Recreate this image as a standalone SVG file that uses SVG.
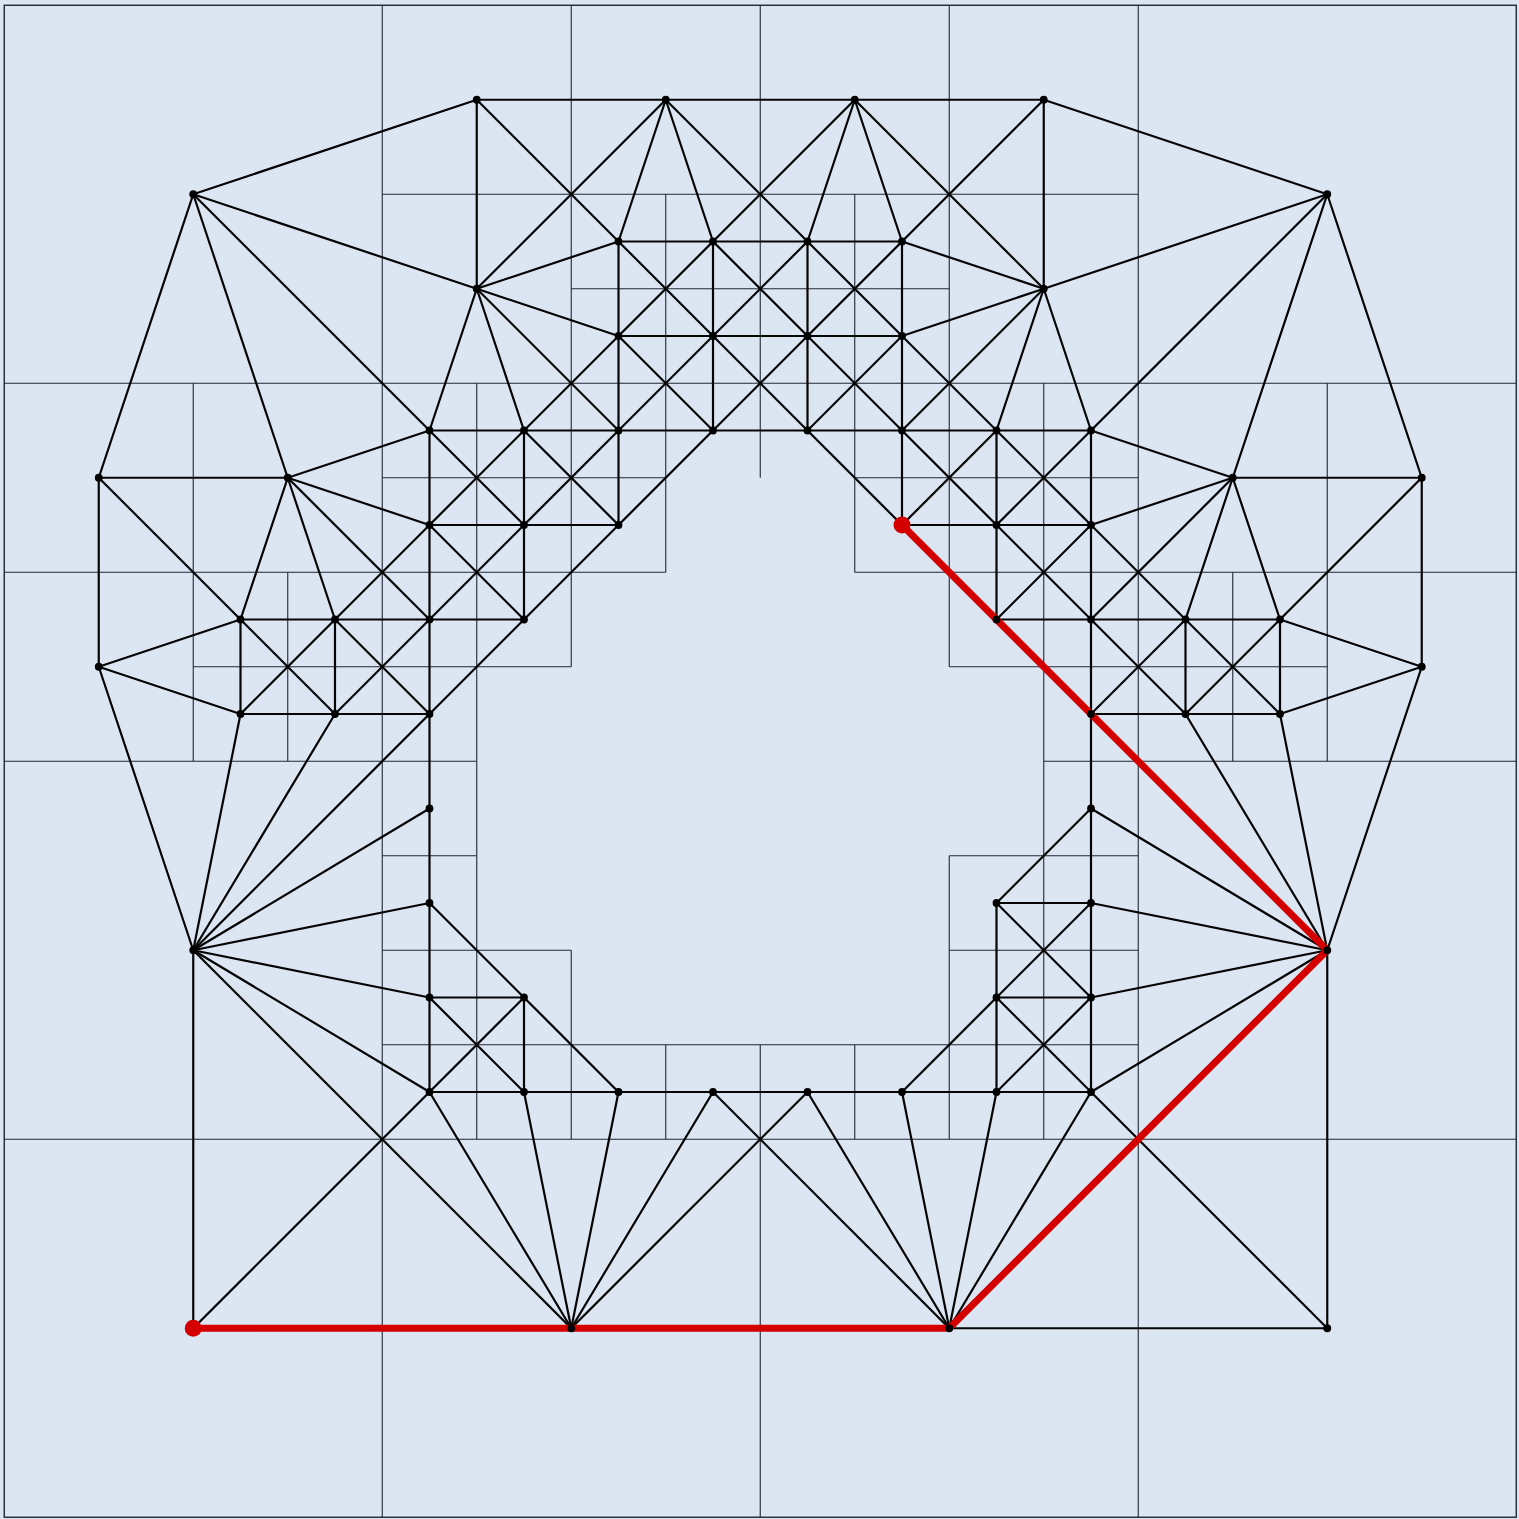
<svg xmlns="http://www.w3.org/2000/svg" width="1519" height="1519" viewBox="0 0 1519 1519">
<style>
.grid line{stroke:#1f2733;stroke-width:1.1}
.grid rect{fill:none;stroke:#1f2733;stroke-width:1.4}
.edges line{stroke:#050505;stroke-width:2.2;stroke-linecap:round}
.path line{stroke:#d40000;stroke-width:7;stroke-linecap:round}
.n{fill:#000;r:3.9px}
.t{fill:#d40000;r:8.5px}
</style>
<rect width="1519" height="1519" fill="#dce6f2"/>
<g id="diagram" transform="translate(-0.25 0.25)">
<g id="grid" class="grid">
<rect x="4.5" y="5" width="1512" height="1512"/>
<line x1="382.5" y1="194" x2="1138.5" y2="194"/>
<line x1="571.5" y1="288.5" x2="949.5" y2="288.5"/>
<line x1="4.5" y1="383" x2="1516.5" y2="383"/>
<line x1="382.5" y1="477.5" x2="666" y2="477.5"/>
<line x1="855" y1="477.5" x2="1138.5" y2="477.5"/>
<line x1="4.5" y1="572" x2="666" y2="572"/>
<line x1="855" y1="572" x2="1516.5" y2="572"/>
<line x1="193.5" y1="666.5" x2="571.5" y2="666.5"/>
<line x1="949.5" y1="666.5" x2="1327.5" y2="666.5"/>
<line x1="4.5" y1="761" x2="477" y2="761"/>
<line x1="1044" y1="761" x2="1516.5" y2="761"/>
<line x1="382.5" y1="855.5" x2="477" y2="855.5"/>
<line x1="949.5" y1="855.5" x2="1138.5" y2="855.5"/>
<line x1="382.5" y1="950" x2="571.5" y2="950"/>
<line x1="949.5" y1="950" x2="1138.5" y2="950"/>
<line x1="382.5" y1="1044.5" x2="1138.5" y2="1044.5"/>
<line x1="4.5" y1="1139" x2="1516.5" y2="1139"/>
<line x1="193.5" y1="383" x2="193.5" y2="761"/>
<line x1="288" y1="572" x2="288" y2="761"/>
<line x1="382.5" y1="5" x2="382.5" y2="1517"/>
<line x1="477" y1="383" x2="477" y2="1139"/>
<line x1="571.5" y1="5" x2="571.5" y2="666.5"/>
<line x1="571.5" y1="950" x2="571.5" y2="1139"/>
<line x1="666" y1="194" x2="666" y2="572"/>
<line x1="666" y1="1044.5" x2="666" y2="1139"/>
<line x1="760.5" y1="5" x2="760.5" y2="477.5"/>
<line x1="760.5" y1="1044.5" x2="760.5" y2="1517"/>
<line x1="855" y1="194" x2="855" y2="572"/>
<line x1="855" y1="1044.5" x2="855" y2="1139"/>
<line x1="949.5" y1="5" x2="949.5" y2="666.5"/>
<line x1="949.5" y1="855.5" x2="949.5" y2="1139"/>
<line x1="1044" y1="383" x2="1044" y2="1139"/>
<line x1="1138.5" y1="5" x2="1138.5" y2="1517"/>
<line x1="1233" y1="572" x2="1233" y2="761"/>
<line x1="1327.5" y1="383" x2="1327.5" y2="761"/>
</g>
<g id="connectors" class="edges">
<line x1="477" y1="99.5" x2="666" y2="99.5"/>
<line x1="666" y1="99.5" x2="855" y2="99.5"/>
<line x1="855" y1="99.5" x2="1044" y2="99.5"/>
<line x1="193.5" y1="194" x2="477" y2="99.5"/>
<line x1="1327.5" y1="194" x2="1044" y2="99.5"/>
<line x1="193.5" y1="194" x2="477" y2="288.5"/>
<line x1="1327.5" y1="194" x2="1044" y2="288.5"/>
<line x1="477" y1="99.5" x2="477" y2="288.5"/>
<line x1="1044" y1="99.5" x2="1044" y2="288.5"/>
<line x1="477" y1="99.5" x2="618.75" y2="241.25"/>
<line x1="666" y1="99.5" x2="477" y2="288.5"/>
<line x1="666" y1="99.5" x2="618.75" y2="241.25"/>
<line x1="666" y1="99.5" x2="713.25" y2="241.25"/>
<line x1="666" y1="99.5" x2="807.75" y2="241.25"/>
<line x1="855" y1="99.5" x2="713.25" y2="241.25"/>
<line x1="855" y1="99.5" x2="807.75" y2="241.25"/>
<line x1="855" y1="99.5" x2="902.25" y2="241.25"/>
<line x1="855" y1="99.5" x2="1044" y2="288.5"/>
<line x1="1044" y1="99.5" x2="902.25" y2="241.25"/>
<line x1="477" y1="288.5" x2="618.75" y2="241.25"/>
<line x1="477" y1="288.5" x2="618.75" y2="335.75"/>
<line x1="1044" y1="288.5" x2="902.25" y2="241.25"/>
<line x1="1044" y1="288.5" x2="902.25" y2="335.75"/>
<line x1="193.5" y1="194" x2="429.75" y2="430.25"/>
<line x1="1327.5" y1="194" x2="1091.25" y2="430.25"/>
<line x1="193.5" y1="194" x2="99" y2="477.5"/>
<line x1="193.5" y1="194" x2="288" y2="477.5"/>
<line x1="1327.5" y1="194" x2="1422" y2="477.5"/>
<line x1="1327.5" y1="194" x2="1233" y2="477.5"/>
<line x1="99" y1="477.5" x2="288" y2="477.5"/>
<line x1="1233" y1="477.5" x2="1422" y2="477.5"/>
<line x1="99" y1="477.5" x2="99" y2="666.5"/>
<line x1="1422" y1="477.5" x2="1422" y2="666.5"/>
<line x1="99" y1="477.5" x2="240.75" y2="619.25"/>
<line x1="1422" y1="477.5" x2="1280.25" y2="619.25"/>
<line x1="288" y1="477.5" x2="429.75" y2="430.25"/>
<line x1="288" y1="477.5" x2="429.75" y2="524.75"/>
<line x1="1233" y1="477.5" x2="1091.25" y2="430.25"/>
<line x1="1233" y1="477.5" x2="1091.25" y2="524.75"/>
<line x1="288" y1="477.5" x2="240.75" y2="619.25"/>
<line x1="288" y1="477.5" x2="335.25" y2="619.25"/>
<line x1="1233" y1="477.5" x2="1185.75" y2="619.25"/>
<line x1="1233" y1="477.5" x2="1280.25" y2="619.25"/>
<line x1="288" y1="477.5" x2="429.75" y2="619.25"/>
<line x1="1233" y1="477.5" x2="1091.25" y2="619.25"/>
<line x1="99" y1="666.5" x2="240.75" y2="619.25"/>
<line x1="99" y1="666.5" x2="240.75" y2="713.75"/>
<line x1="1422" y1="666.5" x2="1280.25" y2="619.25"/>
<line x1="1422" y1="666.5" x2="1280.25" y2="713.75"/>
<line x1="99" y1="666.5" x2="193.5" y2="950"/>
<line x1="1422" y1="666.5" x2="1327.5" y2="950"/>
<line x1="477" y1="288.5" x2="429.75" y2="430.25"/>
<line x1="477" y1="288.5" x2="524.25" y2="430.25"/>
<line x1="1044" y1="288.5" x2="996.75" y2="430.25"/>
<line x1="1044" y1="288.5" x2="1091.25" y2="430.25"/>
<line x1="477" y1="288.5" x2="618.75" y2="430.25"/>
<line x1="1044" y1="288.5" x2="902.25" y2="430.25"/>
<line x1="618.75" y1="241.25" x2="713.25" y2="241.25"/>
<line x1="713.25" y1="241.25" x2="807.75" y2="241.25"/>
<line x1="807.75" y1="241.25" x2="902.25" y2="241.25"/>
<line x1="618.75" y1="335.75" x2="713.25" y2="335.75"/>
<line x1="713.25" y1="335.75" x2="807.75" y2="335.75"/>
<line x1="807.75" y1="335.75" x2="902.25" y2="335.75"/>
<line x1="618.75" y1="241.25" x2="618.75" y2="335.75"/>
<line x1="618.75" y1="335.75" x2="618.75" y2="430.25"/>
<line x1="618.75" y1="430.25" x2="618.75" y2="524.75"/>
<line x1="713.25" y1="241.25" x2="713.25" y2="335.75"/>
<line x1="713.25" y1="335.75" x2="713.25" y2="430.25"/>
<line x1="807.75" y1="241.25" x2="807.75" y2="335.75"/>
<line x1="807.75" y1="335.75" x2="807.75" y2="430.25"/>
<line x1="902.25" y1="241.25" x2="902.25" y2="335.75"/>
<line x1="902.25" y1="335.75" x2="902.25" y2="430.25"/>
<line x1="902.25" y1="430.25" x2="902.25" y2="524.75"/>
<line x1="429.75" y1="430.25" x2="524.25" y2="430.25"/>
<line x1="524.25" y1="430.25" x2="618.75" y2="430.25"/>
<line x1="618.75" y1="430.25" x2="713.25" y2="430.25"/>
<line x1="713.25" y1="430.25" x2="807.75" y2="430.25"/>
<line x1="807.75" y1="430.25" x2="902.25" y2="430.25"/>
<line x1="902.25" y1="430.25" x2="996.75" y2="430.25"/>
<line x1="996.75" y1="430.25" x2="1091.25" y2="430.25"/>
<line x1="618.75" y1="241.25" x2="713.25" y2="335.75"/>
<line x1="713.25" y1="335.75" x2="807.75" y2="430.25"/>
<line x1="807.75" y1="430.25" x2="902.25" y2="524.75"/>
<line x1="713.25" y1="241.25" x2="807.75" y2="335.75"/>
<line x1="807.75" y1="335.75" x2="902.25" y2="430.25"/>
<line x1="902.25" y1="430.25" x2="996.75" y2="524.75"/>
<line x1="996.75" y1="524.75" x2="1091.25" y2="619.25"/>
<line x1="1091.25" y1="619.25" x2="1185.75" y2="713.75"/>
<line x1="807.75" y1="241.25" x2="902.25" y2="335.75"/>
<line x1="902.25" y1="335.75" x2="996.75" y2="430.25"/>
<line x1="996.75" y1="430.25" x2="1091.25" y2="524.75"/>
<line x1="1091.25" y1="524.75" x2="1185.75" y2="619.25"/>
<line x1="1185.75" y1="619.25" x2="1280.25" y2="713.75"/>
<line x1="618.75" y1="335.75" x2="713.25" y2="430.25"/>
<line x1="902.25" y1="241.25" x2="807.75" y2="335.75"/>
<line x1="807.75" y1="335.75" x2="713.25" y2="430.25"/>
<line x1="713.25" y1="430.25" x2="618.75" y2="524.75"/>
<line x1="618.75" y1="524.75" x2="524.25" y2="619.25"/>
<line x1="524.25" y1="619.25" x2="429.75" y2="713.75"/>
<line x1="429.75" y1="713.75" x2="193.5" y2="950"/>
<line x1="807.75" y1="241.25" x2="713.25" y2="335.75"/>
<line x1="713.25" y1="335.75" x2="618.75" y2="430.25"/>
<line x1="618.75" y1="430.25" x2="524.25" y2="524.75"/>
<line x1="524.25" y1="524.75" x2="429.75" y2="619.25"/>
<line x1="429.75" y1="619.25" x2="335.25" y2="713.75"/>
<line x1="713.25" y1="241.25" x2="618.75" y2="335.75"/>
<line x1="618.75" y1="335.75" x2="524.25" y2="430.25"/>
<line x1="524.25" y1="430.25" x2="429.75" y2="524.75"/>
<line x1="429.75" y1="524.75" x2="335.25" y2="619.25"/>
<line x1="335.25" y1="619.25" x2="240.75" y2="713.75"/>
<line x1="902.25" y1="335.75" x2="807.75" y2="430.25"/>
<line x1="902.25" y1="524.75" x2="996.75" y2="430.25"/>
<line x1="996.75" y1="524.75" x2="1091.25" y2="430.25"/>
<line x1="996.75" y1="619.25" x2="1091.25" y2="524.75"/>
<line x1="1091.25" y1="713.75" x2="1185.75" y2="619.25"/>
<line x1="1185.75" y1="713.75" x2="1280.25" y2="619.25"/>
<line x1="429.75" y1="430.25" x2="524.25" y2="524.75"/>
<line x1="429.75" y1="524.75" x2="524.25" y2="619.25"/>
<line x1="335.25" y1="619.25" x2="429.75" y2="713.75"/>
<line x1="240.75" y1="619.25" x2="335.25" y2="713.75"/>
<line x1="524.25" y1="430.25" x2="618.75" y2="524.75"/>
<line x1="429.75" y1="430.25" x2="429.75" y2="524.75"/>
<line x1="429.75" y1="524.75" x2="429.75" y2="619.25"/>
<line x1="429.75" y1="619.25" x2="429.75" y2="713.75"/>
<line x1="429.75" y1="713.75" x2="429.75" y2="808.25"/>
<line x1="429.75" y1="808.25" x2="429.75" y2="902.75"/>
<line x1="429.75" y1="902.75" x2="429.75" y2="997.25"/>
<line x1="429.75" y1="997.25" x2="429.75" y2="1091.75"/>
<line x1="524.25" y1="430.25" x2="524.25" y2="524.75"/>
<line x1="524.25" y1="524.75" x2="524.25" y2="619.25"/>
<line x1="240.75" y1="619.25" x2="240.75" y2="713.75"/>
<line x1="335.25" y1="619.25" x2="335.25" y2="713.75"/>
<line x1="996.75" y1="430.25" x2="996.75" y2="524.75"/>
<line x1="996.75" y1="524.75" x2="996.75" y2="619.25"/>
<line x1="1091.25" y1="430.25" x2="1091.25" y2="524.75"/>
<line x1="1091.25" y1="524.75" x2="1091.25" y2="619.25"/>
<line x1="1091.25" y1="619.25" x2="1091.25" y2="713.75"/>
<line x1="1091.25" y1="713.75" x2="1091.25" y2="808.25"/>
<line x1="1091.25" y1="808.25" x2="1091.25" y2="902.75"/>
<line x1="1091.25" y1="902.75" x2="1091.25" y2="997.25"/>
<line x1="1091.25" y1="997.25" x2="1091.25" y2="1091.75"/>
<line x1="1185.75" y1="619.25" x2="1185.75" y2="713.75"/>
<line x1="1280.25" y1="619.25" x2="1280.25" y2="713.75"/>
<line x1="429.75" y1="524.75" x2="524.25" y2="524.75"/>
<line x1="524.25" y1="524.75" x2="618.75" y2="524.75"/>
<line x1="902.25" y1="524.75" x2="996.75" y2="524.75"/>
<line x1="996.75" y1="524.75" x2="1091.25" y2="524.75"/>
<line x1="240.75" y1="619.25" x2="335.25" y2="619.25"/>
<line x1="335.25" y1="619.25" x2="429.75" y2="619.25"/>
<line x1="429.75" y1="619.25" x2="524.25" y2="619.25"/>
<line x1="996.75" y1="619.25" x2="1091.25" y2="619.25"/>
<line x1="1091.25" y1="619.25" x2="1185.75" y2="619.25"/>
<line x1="1185.75" y1="619.25" x2="1280.25" y2="619.25"/>
<line x1="240.75" y1="713.75" x2="335.25" y2="713.75"/>
<line x1="335.25" y1="713.75" x2="429.75" y2="713.75"/>
<line x1="1091.25" y1="713.75" x2="1185.75" y2="713.75"/>
<line x1="1185.75" y1="713.75" x2="1280.25" y2="713.75"/>
<line x1="240.75" y1="713.75" x2="193.5" y2="950"/>
<line x1="335.25" y1="713.75" x2="193.5" y2="950"/>
<line x1="1280.25" y1="713.75" x2="1327.5" y2="950"/>
<line x1="1185.75" y1="713.75" x2="1327.5" y2="950"/>
<line x1="193.5" y1="950" x2="429.75" y2="808.25"/>
<line x1="193.5" y1="950" x2="429.75" y2="902.75"/>
<line x1="193.5" y1="950" x2="429.75" y2="997.25"/>
<line x1="193.5" y1="950" x2="429.75" y2="1091.75"/>
<line x1="429.75" y1="902.75" x2="524.25" y2="997.25"/>
<line x1="524.25" y1="997.25" x2="618.75" y2="1091.75"/>
<line x1="429.75" y1="997.25" x2="524.25" y2="997.25"/>
<line x1="429.75" y1="997.25" x2="524.25" y2="1091.75"/>
<line x1="524.25" y1="997.25" x2="429.75" y2="1091.75"/>
<line x1="524.25" y1="997.25" x2="524.25" y2="1091.75"/>
<line x1="429.75" y1="1091.75" x2="524.25" y2="1091.75"/>
<line x1="524.25" y1="1091.75" x2="618.75" y2="1091.75"/>
<line x1="618.75" y1="1091.75" x2="713.25" y2="1091.75"/>
<line x1="713.25" y1="1091.75" x2="807.75" y2="1091.75"/>
<line x1="807.75" y1="1091.75" x2="902.25" y2="1091.75"/>
<line x1="902.25" y1="1091.75" x2="996.75" y2="1091.75"/>
<line x1="996.75" y1="1091.75" x2="1091.25" y2="1091.75"/>
<line x1="429.75" y1="1091.75" x2="193.5" y2="1328"/>
<line x1="429.75" y1="1091.75" x2="571.5" y2="1328"/>
<line x1="524.25" y1="1091.75" x2="571.5" y2="1328"/>
<line x1="618.75" y1="1091.75" x2="571.5" y2="1328"/>
<line x1="713.25" y1="1091.75" x2="571.5" y2="1328"/>
<line x1="807.75" y1="1091.75" x2="571.5" y2="1328"/>
<line x1="713.25" y1="1091.75" x2="949.5" y2="1328"/>
<line x1="807.75" y1="1091.75" x2="949.5" y2="1328"/>
<line x1="902.25" y1="1091.75" x2="949.5" y2="1328"/>
<line x1="996.75" y1="1091.75" x2="949.5" y2="1328"/>
<line x1="1091.25" y1="1091.75" x2="949.5" y2="1328"/>
<line x1="1091.25" y1="1091.75" x2="1327.5" y2="1328"/>
<line x1="193.5" y1="950" x2="571.5" y2="1328"/>
<line x1="193.5" y1="950" x2="193.5" y2="1328"/>
<line x1="1327.5" y1="950" x2="1327.5" y2="1328"/>
<line x1="949.5" y1="1328" x2="1327.5" y2="1328"/>
<line x1="1091.25" y1="808.25" x2="996.75" y2="902.75"/>
<line x1="1091.25" y1="808.25" x2="1327.5" y2="950"/>
<line x1="996.75" y1="902.75" x2="1091.25" y2="902.75"/>
<line x1="1091.25" y1="902.75" x2="1327.5" y2="950"/>
<line x1="996.75" y1="902.75" x2="1091.25" y2="997.25"/>
<line x1="1091.25" y1="902.75" x2="996.75" y2="997.25"/>
<line x1="996.75" y1="902.75" x2="996.75" y2="997.25"/>
<line x1="996.75" y1="997.25" x2="996.75" y2="1091.75"/>
<line x1="996.75" y1="997.25" x2="1091.25" y2="997.25"/>
<line x1="1091.25" y1="997.25" x2="1327.5" y2="950"/>
<line x1="996.75" y1="997.25" x2="1091.25" y2="1091.75"/>
<line x1="1091.25" y1="997.25" x2="996.75" y2="1091.75"/>
<line x1="996.75" y1="997.25" x2="902.25" y2="1091.75"/>
<line x1="1091.25" y1="1091.75" x2="1327.5" y2="950"/>
</g>
<g id="shortest-path" class="path">
<line x1="193.5" y1="1328" x2="571.5" y2="1328"/>
<line x1="571.5" y1="1328" x2="949.5" y2="1328"/>
<line x1="949.5" y1="1328" x2="1327.5" y2="950"/>
<line x1="1327.5" y1="950" x2="902.25" y2="524.75"/>
</g>
<g id="n10_2"><circle class="n" cx="477" cy="99.5"/></g>
<g id="n14_2"><circle class="n" cx="666" cy="99.5"/></g>
<g id="n18_2"><circle class="n" cx="855" cy="99.5"/></g>
<g id="n22_2"><circle class="n" cx="1044" cy="99.5"/></g>
<g id="n4_4"><circle class="n" cx="193.5" cy="194"/></g>
<g id="n28_4"><circle class="n" cx="1327.5" cy="194"/></g>
<g id="n13_5"><circle class="n" cx="618.75" cy="241.25"/></g>
<g id="n15_5"><circle class="n" cx="713.25" cy="241.25"/></g>
<g id="n17_5"><circle class="n" cx="807.75" cy="241.25"/></g>
<g id="n19_5"><circle class="n" cx="902.25" cy="241.25"/></g>
<g id="n10_6"><circle class="n" cx="477" cy="288.5"/></g>
<g id="n22_6"><circle class="n" cx="1044" cy="288.5"/></g>
<g id="n13_7"><circle class="n" cx="618.75" cy="335.75"/></g>
<g id="n15_7"><circle class="n" cx="713.25" cy="335.75"/></g>
<g id="n17_7"><circle class="n" cx="807.75" cy="335.75"/></g>
<g id="n19_7"><circle class="n" cx="902.25" cy="335.75"/></g>
<g id="n9_9"><circle class="n" cx="429.75" cy="430.25"/></g>
<g id="n11_9"><circle class="n" cx="524.25" cy="430.25"/></g>
<g id="n13_9"><circle class="n" cx="618.75" cy="430.25"/></g>
<g id="n15_9"><circle class="n" cx="713.25" cy="430.25"/></g>
<g id="n17_9"><circle class="n" cx="807.75" cy="430.25"/></g>
<g id="n19_9"><circle class="n" cx="902.25" cy="430.25"/></g>
<g id="n21_9"><circle class="n" cx="996.75" cy="430.25"/></g>
<g id="n23_9"><circle class="n" cx="1091.25" cy="430.25"/></g>
<g id="n2_10"><circle class="n" cx="99" cy="477.5"/></g>
<g id="n6_10"><circle class="n" cx="288" cy="477.5"/></g>
<g id="n26_10"><circle class="n" cx="1233" cy="477.5"/></g>
<g id="n30_10"><circle class="n" cx="1422" cy="477.5"/></g>
<g id="n9_11"><circle class="n" cx="429.75" cy="524.75"/></g>
<g id="n11_11"><circle class="n" cx="524.25" cy="524.75"/></g>
<g id="n13_11"><circle class="n" cx="618.75" cy="524.75"/></g>
<g id="n21_11"><circle class="n" cx="996.75" cy="524.75"/></g>
<g id="n23_11"><circle class="n" cx="1091.25" cy="524.75"/></g>
<g id="n5_13"><circle class="n" cx="240.75" cy="619.25"/></g>
<g id="n7_13"><circle class="n" cx="335.25" cy="619.25"/></g>
<g id="n9_13"><circle class="n" cx="429.75" cy="619.25"/></g>
<g id="n11_13"><circle class="n" cx="524.25" cy="619.25"/></g>
<g id="n21_13"><circle class="n" cx="996.75" cy="619.25"/></g>
<g id="n23_13"><circle class="n" cx="1091.25" cy="619.25"/></g>
<g id="n25_13"><circle class="n" cx="1185.75" cy="619.25"/></g>
<g id="n27_13"><circle class="n" cx="1280.25" cy="619.25"/></g>
<g id="n2_14"><circle class="n" cx="99" cy="666.5"/></g>
<g id="n30_14"><circle class="n" cx="1422" cy="666.5"/></g>
<g id="n5_15"><circle class="n" cx="240.75" cy="713.75"/></g>
<g id="n7_15"><circle class="n" cx="335.25" cy="713.75"/></g>
<g id="n9_15"><circle class="n" cx="429.75" cy="713.75"/></g>
<g id="n23_15"><circle class="n" cx="1091.25" cy="713.75"/></g>
<g id="n25_15"><circle class="n" cx="1185.75" cy="713.75"/></g>
<g id="n27_15"><circle class="n" cx="1280.25" cy="713.75"/></g>
<g id="n9_17"><circle class="n" cx="429.75" cy="808.25"/></g>
<g id="n23_17"><circle class="n" cx="1091.25" cy="808.25"/></g>
<g id="n9_19"><circle class="n" cx="429.75" cy="902.75"/></g>
<g id="n21_19"><circle class="n" cx="996.75" cy="902.75"/></g>
<g id="n23_19"><circle class="n" cx="1091.25" cy="902.75"/></g>
<g id="n4_20"><circle class="n" cx="193.5" cy="950"/></g>
<g id="n28_20"><circle class="n" cx="1327.5" cy="950"/></g>
<g id="n9_21"><circle class="n" cx="429.75" cy="997.25"/></g>
<g id="n11_21"><circle class="n" cx="524.25" cy="997.25"/></g>
<g id="n21_21"><circle class="n" cx="996.75" cy="997.25"/></g>
<g id="n23_21"><circle class="n" cx="1091.25" cy="997.25"/></g>
<g id="n9_23"><circle class="n" cx="429.75" cy="1091.75"/></g>
<g id="n11_23"><circle class="n" cx="524.25" cy="1091.75"/></g>
<g id="n13_23"><circle class="n" cx="618.75" cy="1091.75"/></g>
<g id="n15_23"><circle class="n" cx="713.25" cy="1091.75"/></g>
<g id="n17_23"><circle class="n" cx="807.75" cy="1091.75"/></g>
<g id="n19_23"><circle class="n" cx="902.25" cy="1091.75"/></g>
<g id="n21_23"><circle class="n" cx="996.75" cy="1091.75"/></g>
<g id="n23_23"><circle class="n" cx="1091.25" cy="1091.75"/></g>
<g id="n12_28"><circle class="n" cx="571.5" cy="1328"/></g>
<g id="n20_28"><circle class="n" cx="949.5" cy="1328"/></g>
<g id="n28_28"><circle class="n" cx="1327.5" cy="1328"/></g>
<g id="n19_11"><circle class="t" cx="902.25" cy="524.75"/></g>
<g id="n4_28"><circle class="t" cx="193.5" cy="1328"/></g>
</g>
</svg>
